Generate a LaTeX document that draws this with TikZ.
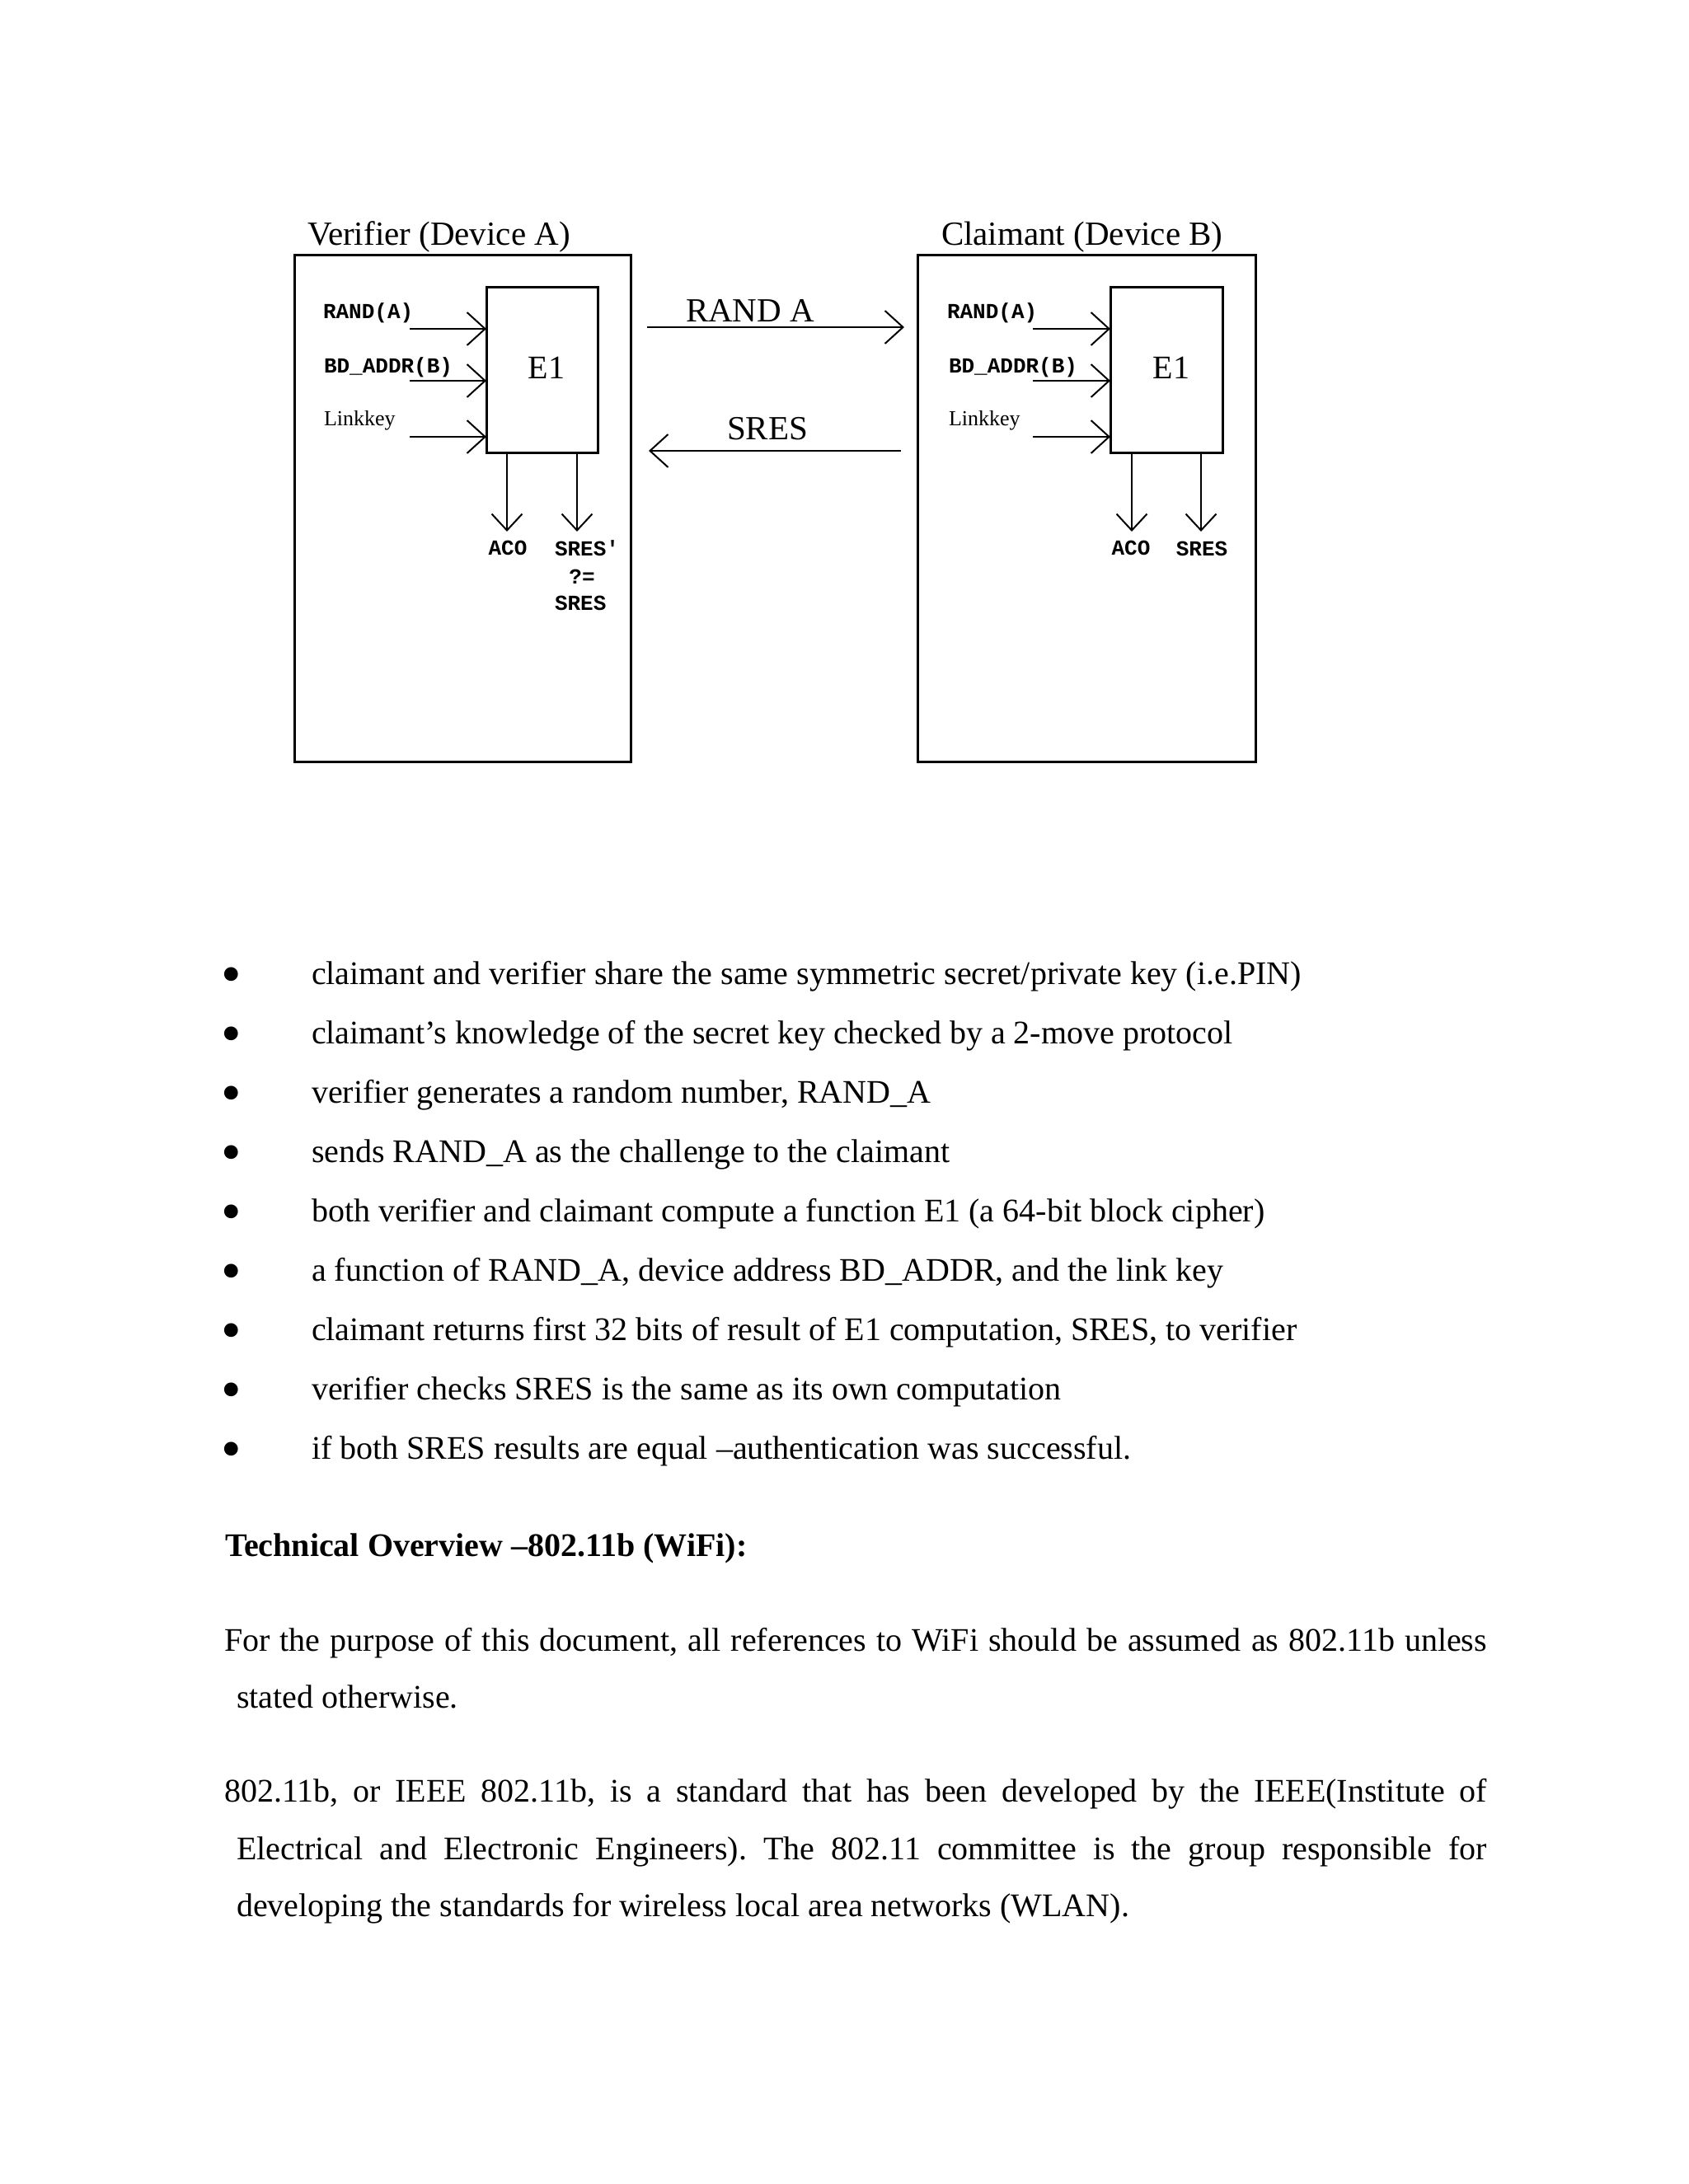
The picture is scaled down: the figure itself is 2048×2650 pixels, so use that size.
\documentclass[tikz,border=0pt]{standalone}
\usepackage{fontspec}
\setmainfont{Liberation Serif}
\newfontfamily\diagmono{Liberation Mono}
\usetikzlibrary{arrows.meta}
\frenchspacing
\begin{document}
\begin{tikzpicture}[x=1pt,y=-1pt,
  every node/.style={inner sep=0pt,outer sep=0pt},
  devbox/.style={draw,line width=3pt},
  arr/.style={line width=2.5pt,-{Straight Barb[length=22pt,width=40pt,line width=2pt]}},
  darr/.style={line width=2.5pt,-{Straight Barb[length=20pt,width=37pt,line width=2pt]}},
  title/.style={font=\fontsize{41}{48}\selectfont,anchor=base west},
  elabel/.style={font=\fontsize{40}{48}\selectfont,anchor=base},
  small/.style={font=\diagmono\bfseries\fontsize{26}{30}\selectfont,anchor=base west},
  lk/.style={font=\fontsize{26}{30}\selectfont,anchor=base west},
  body/.style={font=\frenchspacing\fontsize{40}{48}\selectfont,anchor=base west},
  bul/.style={font=\fontsize{70}{80}\selectfont,anchor=base west},
  head/.style={font=\bfseries\fontsize{40}{48}\selectfont,anchor=base west}
]
\fill[white] (0,0) rectangle (2048,2650);
\useasboundingbox (0,0) rectangle (2048,2650);

% ---------- Verifier (Device A)
\node[title] (titleA) at (373,297) {Verifier (Device A)};
\node[devbox,minimum width=408pt,minimum height=615pt] (boxA) at (561,616.5) {};
\node[devbox,minimum width=135pt,minimum height=201pt] (e1A) at (657.5,448.5) {};
\node[elabel] (e1Alab) at (663,459) {E1};
\node[small] (randAl) at (392,386) {RAND(A)};
\node[small] (bdAl) at (393,452) {BD\_ADDR(B)};
\node[lk] (lkAl) at (393,516) {Linkkey};
\coordinate (inA1) at (497,399);
\coordinate (inA2) at (497,462);
\coordinate (inA3) at (497,530);
\draw[arr] (inA1) -- (inA1 -| e1A.west);
\draw[arr] (inA2) -- (inA2 -| e1A.west);
\draw[arr] (inA3) -- (inA3 -| e1A.west);
\coordinate (outA1) at (615,645);
\coordinate (outA2) at (700,645);
\draw[darr] (outA1 |- e1A.south) -- (outA1);
\draw[darr] (outA2 |- e1A.south) -- (outA2);
\node[small,anchor=base] (acoA) at (616,673) {ACO};
\node[small] (sresA1) at (673,674) {SRES'};
\node[small,anchor=base] (neqA) at (706,708) {?=};
\node[small] (sresA2) at (673,740) {SRES};

% ---------- messages
\coordinate (randS) at (785,397);
\coordinate (randE) at (1097,397);
\draw[arr] (randS) -- (randE);
\node[title] (randLab) at (832,390) {RAND A};
\coordinate (sresS) at (1093,547);
\coordinate (sresE) at (787,547);
\draw[arr] (sresS) -- (sresE);
\node[title] (sresLab) at (882,533) {SRES};

% ---------- Claimant (Device B)
\node[title] (titleB) at (1142,297) {Claimant (Device B)};
\node[devbox,minimum width=410pt,minimum height=615pt] (boxB) at (1318,616.5) {};
\node[devbox,minimum width=136pt,minimum height=201pt] (e1B) at (1415,448.5) {};
\node[elabel] (e1Blab) at (1421,459) {E1};
\node[small] (randBl) at (1149,386) {RAND(A)};
\node[small] (bdBl) at (1151,452) {BD\_ADDR(B)};
\node[lk] (lkBl) at (1151,516) {Linkkey};
\coordinate (inB1) at (1253,399);
\coordinate (inB2) at (1253,462);
\coordinate (inB3) at (1253,530);
\draw[arr] (inB1) -- (inB1 -| e1B.west);
\draw[arr] (inB2) -- (inB2 -| e1B.west);
\draw[arr] (inB3) -- (inB3 -| e1B.west);
\coordinate (outB1) at (1373,645);
\coordinate (outB2) at (1457,645);
\draw[darr] (outB1 |- e1B.south) -- (outB1);
\draw[darr] (outB2 |- e1B.south) -- (outB2);
\node[small,anchor=base] (acoB) at (1372,673) {ACO};
\node[small,anchor=base] (sresB) at (1458,674) {SRES};

% ---------- bullet list
\node[bul] (d1) at (268,1205) {•};
\node[body] (t1) at (378,1194) {claimant and verifier share the same symmetric secret/private key (i.e.PIN)};
\node[bul] (d2) at (268,1277) {•};
\node[body] (t2) at (378,1266) {claimant’s knowledge of the secret key checked by a 2-move protocol};
\node[bul] (d3) at (268,1349) {•};
\node[body] (t3) at (378,1338) {verifier generates a random number, RAND\_A};
\node[bul] (d4) at (268,1421) {•};
\node[body] (t4) at (378,1410) {sends RAND\_A as the challenge to the claimant};
\node[bul] (d5) at (268,1493) {•};
\node[body] (t5) at (378,1482) {both verifier and claimant compute a function E1 (a 64-bit block cipher)};
\node[bul] (d6) at (268,1565) {•};
\node[body] (t6) at (378,1554) {a function of RAND\_A, device address BD\_ADDR, and the link key};
\node[bul] (d7) at (268,1637) {•};
\node[body] (t7) at (378,1626) {claimant returns first 32 bits of result of E1 computation, SRES, to verifier};
\node[bul] (d8) at (268,1709) {•};
\node[body] (t8) at (378,1698) {verifier checks SRES is the same as its own computation};
\node[bul] (d9) at (268,1781) {•};
\node[body] (t9) at (378,1770) {if both SRES results are equal –authentication was successful.};

% ---------- heading and paragraphs
\node[head] (hd) at (273,1888) {Technical Overview –802.11b (WiFi):};
\node[body] (p1a) at (272,2003) {\makebox[1532pt][s]{For the purpose of this document, all references to WiFi should be assumed as 802.11b unless}};
\node[body] (p1b) at (287,2072) {stated otherwise.};
\node[body] (p2a) at (272,2186) {\makebox[1532pt][s]{802.11b, or IEEE 802.11b, is a standard that has been developed by the IEEE(Institute of}};
\node[body] (p2b) at (287,2256) {\makebox[1517pt][s]{Electrical and Electronic Engineers). The 802.11 committee is the group responsible for}};
\node[body] (p2c) at (287,2325) {developing the standards for wireless local area networks (WLAN).};
\end{tikzpicture}
\end{document}
